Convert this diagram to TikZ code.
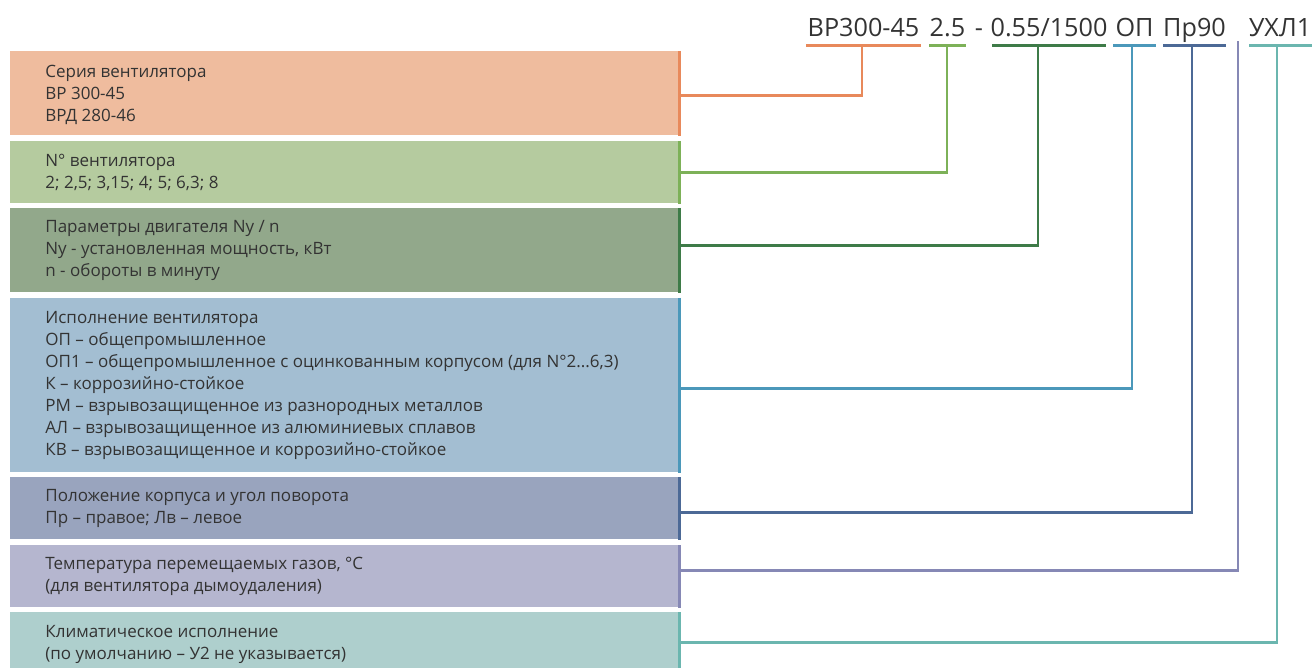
\documentclass[tikz,border=0pt]{standalone}
\usepackage{fontspec}
\setmainfont{Open Sans}

\definecolor{seriesfill}{HTML}{EFBC9E}
\definecolor{seriesline}{HTML}{E8895B}
\definecolor{numfill}{HTML}{B5CB9F}
\definecolor{numline}{HTML}{7DB158}
\definecolor{motorfill}{HTML}{92A88B}
\definecolor{motorline}{HTML}{3E7B48}
\definecolor{execfill}{HTML}{A3BED2}
\definecolor{execline}{HTML}{4B98BA}
\definecolor{posfill}{HTML}{99A4BE}
\definecolor{posline}{HTML}{4C6996}
\definecolor{tempfill}{HTML}{B5B6CF}
\definecolor{templine}{HTML}{8688B5}
\definecolor{climfill}{HTML}{AECFCD}
\definecolor{climline}{HTML}{6BB6AF}
\definecolor{ink}{HTML}{333333}

\begin{document}
\begin{tikzpicture}
  [x=0.5pt, y=-0.5pt,
   box/.style={rectangle, anchor=north west, minimum width=335pt, inner sep=0pt},
   txt/.style={anchor=west, align=left, inner sep=0pt, text=ink,
               font=\fontsize{8.5}{11}\selectfont},
   code/.style={anchor=base, inner sep=0pt, text=ink,
                font=\fontsize{12.6}{14}\selectfont},
   edge/.style={line width=1.5pt},
   link/.style={line width=1.3pt}]
  \useasboundingbox (0,0) rectangle (1312,668);

  % boxes on the left
  \node[box, fill=seriesfill, minimum height=42pt] (b1) at (10,51) {};
  \node[box, fill=numfill,    minimum height=31pt] (b2) at (10,141) {};
  \node[box, fill=motorfill,  minimum height=42pt] (b3) at (10,208) {};
  \node[box, fill=execfill,   minimum height=87pt] (b4) at (10,298) {};
  \node[box, fill=posfill,    minimum height=31pt] (b5) at (10,477) {};
  \node[box, fill=tempfill,   minimum height=31pt] (b6) at (10,545) {};
  \node[box, fill=climfill,   minimum height=32pt] (b7) at (10,612) {};

  \draw[edge, seriesline] ([xshift=-0.75pt]b1.north east) -- ([xshift=-0.75pt]b1.south east);
  \draw[edge, numline]    ([xshift=-0.75pt]b2.north east) -- ([xshift=-0.75pt]b2.south east);
  \draw[edge, motorline]  ([xshift=-0.75pt]b3.north east) -- ([xshift=-0.75pt]b3.south east);
  \draw[edge, execline]   ([xshift=-0.75pt]b4.north east) -- ([xshift=-0.75pt]b4.south east);
  \draw[edge, posline]    ([xshift=-0.75pt]b5.north east) -- ([xshift=-0.75pt]b5.south east);
  \draw[edge, templine]   ([xshift=-0.75pt]b6.north east) -- ([xshift=-0.75pt]b6.south east);
  \draw[edge, climline]   ([xshift=-0.75pt]b7.north east) -- ([xshift=-0.75pt]b7.south east);

  \node[txt] (t1) at ([xshift=17.5pt, yshift=-1pt]b1.west)
    {Серия вентилятора\\ВР 300-45\\ВРД 280-46};
  \node[txt] (t2) at ([xshift=17.5pt]b2.west)
    {N° вентилятора\\2; 2,5; 3,15; 4; 5; 6,3; 8};
  \node[txt] (t3) at ([xshift=17.5pt]b3.west)
    {Параметры двигателя Ny / n\\Ny - установленная мощность, кВт\\n - обороты в минуту};
  \node[txt] (t4) at ([xshift=17.5pt]b4.west)
    {Исполнение вентилятора\\
     ОП – общепромышленное\\
     ОП1 – общепромышленное с оцинкованным корпусом (для N°2...6,3)\\
     К – коррозийно-стойкое\\
     РМ – взрывозащищенное из разнородных металлов\\
     АЛ – взрывозащищенное из алюминиевых сплавов\\
     КВ – взрывозащищенное и коррозийно-стойкое};
  \node[txt] (t5) at ([xshift=17.5pt]b5.west)
    {Положение корпуса и угол поворота\\Пр – правое; Лв – левое};
  \node[txt] (t6) at ([xshift=17.5pt]b6.west)
    {Температура перемещаемых газов, °С\\(для вентилятора дымоудаления)};
  \node[txt] (t7) at ([xshift=17.5pt]b7.west)
    {Климатическое исполнение\\(по умолчанию – У2 не указывается)};

  % designation code
  \node[code] (c1) at (863.5,37) {ВР300-45};
  \node[code] (c2) at (947.5,37) {2.5};
  \node[code] (cd) at (979,37) {-};
  \node[code] (c3) at (1049,37) {0.55/1500};
  \node[code] (c4) at (1134.5,37) {ОП};
  \node[code] (c5) at (1194.5,37) {Пр90};
  \node[code] (c7) at (1280,37) {УХЛ1};

  \draw[edge, seriesline] (806,46) -- (921,46);
  \draw[edge, numline]    (929,46) -- (966,46);
  \draw[edge, motorline]  (992,46) -- (1106,46);
  \draw[edge, execline]   (1113,46) -- (1156,46);
  \draw[edge, posline]    (1163,46) -- (1226,46);
  \draw[edge, climline]   (1249,46) -- (1312,46);

  \coordinate (d1) at (862,46);
  \coordinate (d2) at (947,46);
  \coordinate (d3) at (1038,46);
  \coordinate (d4) at (1132,46);
  \coordinate (d5) at (1192,46);
  \coordinate (d6) at (1238,41);
  \coordinate (d7) at (1277,46);

  % connectors
  \draw[link, seriesline] ([yshift=-1pt]b1.east) -| (d1);
  \draw[link, numline]    (b2.east) -| (d2);
  \draw[link, motorline]  ([yshift=2.5pt]b3.east) -| (d3);
  \draw[link, execline]   ([yshift=-1.5pt]b4.east) -| (d4);
  \draw[link, posline]    ([yshift=-2pt]b5.east) -| (d5);
  \draw[link, templine]   ([yshift=3pt]b6.east) -| (d6);
  \draw[link, climline]   ([yshift=1pt]b7.east) -| (d7);
\end{tikzpicture}
\end{document}
